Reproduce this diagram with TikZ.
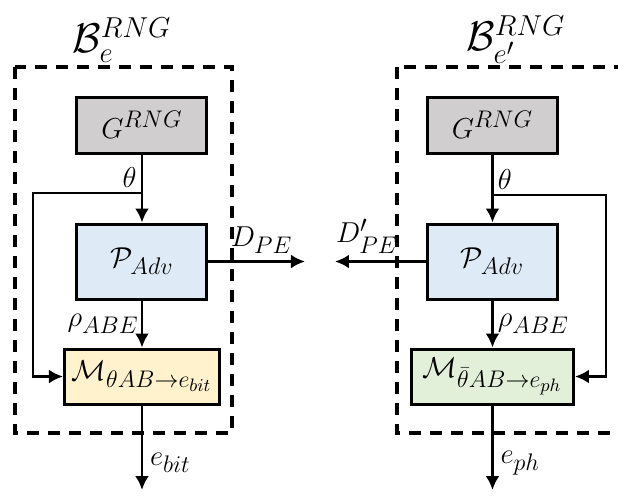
\documentclass[tikz,border=0pt]{standalone}
\usepackage{amsmath,amssymb}
\usetikzlibrary{arrows.meta}
\DeclareMathSizes{14.4}{14.4}{11.5}{9}
\definecolor{rnggray}{RGB}{208,206,206}
\definecolor{advblue}{RGB}{222,235,247}
\definecolor{bityellow}{RGB}{255,242,204}
\definecolor{phgreen}{RGB}{226,240,217}
\begin{document}
\begin{tikzpicture}[->,>={Latex[length=7pt,width=7pt]},x=0.5pt,y=-0.5pt,
  line width=1.4pt,every node/.style={font=\Large},
  block/.style={draw,rectangle,line width=1.5pt,inner sep=0pt},
  gen box/.style={block,fill=rnggray,minimum width=65pt,minimum height=28pt},
  adv box/.style={block,fill=advblue,minimum width=65pt,minimum height=37.5pt},
  meas box/.style={block,minimum height=27.5pt},
  frame/.style={-,dash pattern=on 6pt off 4.5pt,line width=2pt}]
  \clip (0,0) rectangle (618,500);
  \draw[frame] (15,67) rectangle (232,433);
  \draw[frame] (397,67) rectangle (660,433);
  \node[font=\huge] (title_e) at (122,40) {$\mathcal{B}_{e}^{RNG}$};
  \node[font=\huge] (title_f) at (516,40) {$\mathcal{B}_{e'}^{RNG}$};
  \node[gen box] (gen_e) at (142,125) {$G^{RNG}$};
  \node[adv box] (adv_e) at (142,261.5) {$\mathcal{P}_{Adv}$};
  \node[meas box,fill=bityellow,minimum width=77.5pt] (meas_e) at (142,376.5)
    {$\mathcal{M}_{\theta AB\rightarrow e_{bit}}$};
  \node[gen box] (gen_f) at (492.5,125) {$G^{RNG}$};
  \node[adv box] (adv_f) at (492.5,261.5) {$\mathcal{P}_{Adv}$};
  \node[meas box,fill=phgreen,minimum width=81pt] (meas_f) at (492.5,376.5)
    {$\mathcal{M}_{\bar{\theta}AB\rightarrow e_{ph}}$};
  \coordinate (theta_e) at (142,193);
  \coordinate (theta_f) at (492.5,195);
  \coordinate (dpe_e) at (305,261.5);
  \coordinate (dpe_f) at (335,261.5);
  \coordinate (out_e) at (142,490);
  \coordinate (out_f) at (492.5,490);
  \draw (gen_e) -- (adv_e);
  \node[above left,inner sep=2pt] at (theta_e) {$\theta$};
  \draw (theta_e) -- ++(-109,0) |- (meas_e);
  \draw (adv_e) -- (dpe_e) node[pos=0.55,above,inner sep=3.5pt] {$D_{PE}$};
  \draw (adv_e) -- (meas_e) node[midway,left,inner sep=1pt] {$\rho_{ABE}$};
  \draw (meas_e) -- (out_e) node[pos=0.68,right] {$e_{bit}$};
  \draw (gen_f) -- (adv_f);
  \node[above right,inner sep=2pt] at (theta_f) {$\theta$};
  \draw (theta_f) -- ++(113.5,0) |- (meas_f);
  \draw (adv_f) -- (dpe_f) node[pos=0.65,above,inner sep=3.5pt] {$D'_{PE}$};
  \draw (adv_f) -- (meas_f) node[midway,right,inner sep=2pt] {$\rho_{ABE}$};
  \draw (meas_f) -- (out_f) node[pos=0.68,right] {$e_{ph}$};
\end{tikzpicture}
\end{document}
